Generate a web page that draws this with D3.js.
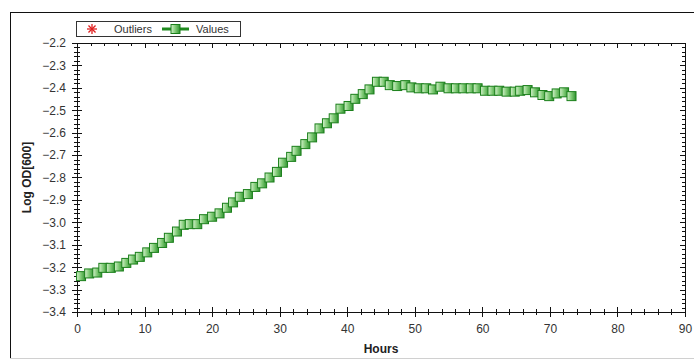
<!DOCTYPE html>
<html>
<head>
<meta charset="utf-8">
<script src="https://cdn.jsdelivr.net/npm/d3@7"></script>
<style>
    body { margin: 0; background: #fff; }
    svg { display: block; font-family: "Liberation Sans", Arial, sans-serif; }
</style>
</head>
<body>
<svg id="chart" width="694" height="361"></svg>
<script>
// Data
const hours = [0.6, 1.8, 3.0, 3.9, 5.0, 6.2, 7.3, 8.3, 9.3, 10.4,
    11.4, 12.6, 13.6, 14.8, 15.8, 16.7, 17.8, 18.8, 20.0, 21.1,
    22.2, 23.1, 24.1, 25.3, 26.4, 27.4, 28.5, 29.6, 30.5, 31.7,
    32.5, 33.8, 34.8, 35.9, 37.0, 38.0, 39.0, 40.2, 41.2, 42.3,
    43.3, 44.4, 45.4, 46.3, 47.4, 48.6, 49.5, 50.6, 51.7, 52.7,
    53.8, 55.0, 56.1, 57.2, 58.3, 59.3, 60.4, 61.5, 62.5, 63.6,
    64.8, 65.6, 66.7, 67.8, 68.9, 69.9, 71.0, 72.1, 73.2];
const logOD = [-3.240, -3.228, -3.224, -3.203, -3.203, -3.197, -3.181, -3.166, -3.154, -3.134,
    -3.114, -3.092, -3.069, -3.041, -3.011, -3.008, -3.008, -2.986, -2.975, -2.960,
    -2.935, -2.911, -2.886, -2.874, -2.842, -2.826, -2.800, -2.775, -2.734, -2.708,
    -2.681, -2.651, -2.621, -2.581, -2.558, -2.536, -2.493, -2.481, -2.449, -2.428,
    -2.407, -2.373, -2.373, -2.388, -2.392, -2.388, -2.398, -2.402, -2.402, -2.407,
    -2.395, -2.402, -2.402, -2.402, -2.402, -2.402, -2.413, -2.413, -2.413, -2.417,
    -2.417, -2.413, -2.410, -2.420, -2.432, -2.437, -2.425, -2.420, -2.437];
const xTicks = [0, 10, 20, 30, 40, 50, 60, 70, 80, 90];
const yTicks = [-2.2, -2.3, -2.4, -2.5, -2.6, -2.7, -2.8, -2.9, -3.0, -3.1, -3.2, -3.3, -3.4];
const legendItems = ["Outliers", "Values"];

const points = hours.map((h, i) => ({ h: h, v: logOD[i] }));

// Plot area
const plotLeft = 77, plotRight = 685, plotTop = 43, plotBottom = 312;

const svg = d3.select("#chart");

const x = d3.scaleLinear().domain([0, 90]).range([plotLeft, plotRight]);
const y = d3.scaleLinear().domain([-3.4, -2.2]).range([plotBottom, plotTop]);

// Marker gradient
const grad = svg.append("defs").append("linearGradient")
    .attr("id", "sqGrad")
    .attr("x1", "0%").attr("x2", "100%")
    .attr("y1", "0%").attr("y2", "0%");
grad.append("stop").attr("offset", "0%").attr("stop-color", "#d4f2cc");
grad.append("stop").attr("offset", "50%").attr("stop-color", "#7cc872");
grad.append("stop").attr("offset", "100%").attr("stop-color", "#2f922f");

// Outer frame
svg.append("rect")
    .attr("x", 10.5).attr("y", 12.5)
    .attr("width", 700).attr("height", 346)
    .attr("fill", "none")
    .attr("stroke", "#111");
svg.append("line")
    .attr("x1", 10).attr("x2", 694)
    .attr("y1", 358.5).attr("y2", 358.5)
    .attr("stroke", "#d0d0d0");

// Axes
const xMinor = d3.range(0, 91, 2);
const yMinor = d3.range(0, 61).map(i => -3.4 + i * 0.02);

// bottom
svg.append("g")
    .attr("transform", `translate(0,${plotBottom})`)
    .call(d3.axisBottom(x).tickValues(xTicks).tickSize(0).tickPadding(12).tickFormat(d3.format("d")))
    .call(g => g.select(".domain").attr("stroke", "#111"))
    .call(g => g.selectAll("text").attr("font-size", 12).attr("fill", "#333").attr("font-family", "Liberation Sans, Arial"));
svg.append("g").selectAll("line").data(xMinor).join("line")
    .attr("x1", d => Math.round(x(d)) + 0.5).attr("x2", d => Math.round(x(d)) + 0.5)
    .attr("y1", d => d % 10 === 0 ? plotBottom - 5 : plotBottom - 3)
    .attr("y2", d => d % 10 === 0 ? plotBottom + 5 : plotBottom + 3)
    .attr("stroke", "#111");

// top
svg.append("line")
    .attr("x1", plotLeft).attr("x2", plotRight)
    .attr("y1", plotTop + 0.5).attr("y2", plotTop + 0.5)
    .attr("stroke", "#111");
svg.append("g").selectAll("line").data(xMinor).join("line")
    .attr("x1", d => Math.round(x(d)) + 0.5).attr("x2", d => Math.round(x(d)) + 0.5)
    .attr("y1", plotTop)
    .attr("y2", d => d % 10 === 0 ? plotTop + 5 : plotTop + 3)
    .attr("stroke", "#111");

// left
svg.append("g")
    .attr("transform", `translate(${plotLeft},0)`)
    .call(d3.axisLeft(y).tickValues(yTicks).tickSize(0).tickPadding(11).tickFormat(d3.format(".1f")))
    .call(g => g.select(".domain").attr("stroke", "#111"))
    .call(g => g.selectAll("text").attr("font-size", 12).attr("fill", "#333").attr("font-family", "Liberation Sans, Arial"));
svg.append("g").selectAll("line").data(yMinor).join("line")
    .attr("y1", d => Math.round(y(d)) + 0.5).attr("y2", d => Math.round(y(d)) + 0.5)
    .attr("x1", (d, i) => i % 5 === 0 ? plotLeft - 5 : plotLeft - 3)
    .attr("x2", (d, i) => i % 5 === 0 ? plotLeft + 5 : plotLeft + 3)
    .attr("stroke", "#111");

// right
svg.append("line")
    .attr("x1", plotRight + 0.5).attr("x2", plotRight + 0.5)
    .attr("y1", plotTop).attr("y2", plotBottom)
    .attr("stroke", "#111");
svg.append("g").selectAll("line").data(yMinor).join("line")
    .attr("y1", d => Math.round(y(d)) + 0.5).attr("y2", d => Math.round(y(d)) + 0.5)
    .attr("x1", (d, i) => i % 5 === 0 ? plotRight - 5 : plotRight - 3)
    .attr("x2", plotRight)
    .attr("stroke", "#111");

// Axis titles
svg.append("text")
    .attr("x", (plotLeft + plotRight) / 2).attr("y", 353)
    .attr("text-anchor", "middle")
    .attr("font-size", 12).attr("font-weight", "bold").attr("fill", "#222")
    .text("Hours");
svg.append("text")
    .attr("transform", `translate(31,${(plotTop + plotBottom) / 2}) rotate(-90)`)
    .attr("text-anchor", "middle")
    .attr("font-size", 12).attr("font-weight", "bold").attr("fill", "#222")
    .text("Log OD[600]");

// Series line
svg.append("path")
    .datum(points)
    .attr("d", d3.line().x(d => x(d.h)).y(d => y(d.v)))
    .attr("fill", "none")
    .attr("stroke", "#1f8a1f")
    .attr("stroke-width", 2);

// Square markers
const sq = 9;
svg.append("g").selectAll("rect").data(points).join("rect")
    .attr("x", d => x(d.h) - sq / 2)
    .attr("y", d => y(d.v) - sq / 2)
    .attr("width", sq).attr("height", sq)
    .attr("fill", "url(#sqGrad)")
    .attr("stroke", "#1a7f1a")
    .attr("stroke-width", 1);

// Legend
const legend = svg.append("g");
legend.append("rect")
    .attr("x", 76.5).attr("y", 21.5)
    .attr("width", 164).attr("height", 15)
    .attr("fill", "#fff").attr("stroke", "#333");
// asterisk for outliers
const ast = legend.append("g").attr("transform", "translate(92,29)");
[0, 45, 90, 135].forEach(a => {
    ast.append("line")
        .attr("x1", -5).attr("x2", 5).attr("y1", 0).attr("y2", 0)
        .attr("transform", `rotate(${a})`)
        .attr("stroke", "#e02020").attr("stroke-width", 1.3);
});
legend.append("text")
    .attr("x", 114).attr("y", 33)
    .attr("font-size", 11).attr("fill", "#333")
    .text(legendItems[0]);
legend.append("line")
    .attr("x1", 162).attr("x2", 189).attr("y1", 29).attr("y2", 29)
    .attr("stroke", "#1f8a1f").attr("stroke-width", 3);
legend.append("rect")
    .attr("x", 171).attr("y", 24.5).attr("width", 9).attr("height", 9)
    .attr("fill", "url(#sqGrad)").attr("stroke", "#1a7f1a");
legend.append("text")
    .attr("x", 196).attr("y", 33)
    .attr("font-size", 11).attr("fill", "#333")
    .text(legendItems[1]);
</script>
</body>
</html>
